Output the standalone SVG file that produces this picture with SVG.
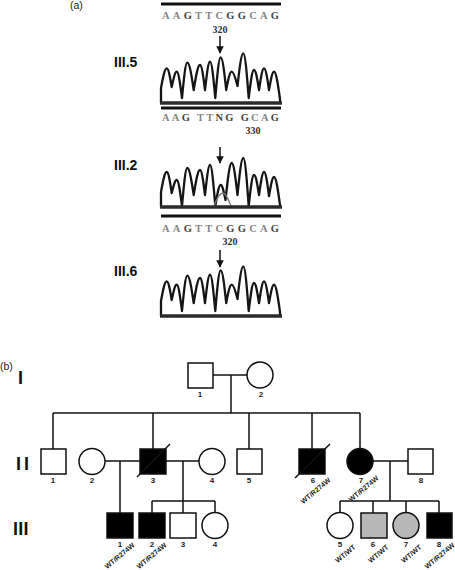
<svg xmlns="http://www.w3.org/2000/svg" xmlns:xlink="http://www.w3.org/1999/xlink" width="455" height="570" viewBox="0 0 455 570">
<style>
.seq{font-family:"Liberation Serif",serif;font-weight:bold;font-size:10.5px;fill:#858585}
.seq .d{fill:#444}
.pos{font-family:"Liberation Serif",serif;font-weight:bold;font-size:10px;fill:#333;text-anchor:middle}
.lab{font-family:"Liberation Sans",Arial,sans-serif;font-weight:bold;font-size:14px;fill:#111}
.cap{font-family:"Liberation Sans",Arial,sans-serif;font-size:10.5px;fill:#222}
.gen{font-family:"Liberation Sans",Arial,sans-serif;font-weight:bold;font-size:18px;fill:#111}
.num{font-family:"Liberation Sans",Arial,sans-serif;font-weight:bold;font-size:8px;fill:#222;text-anchor:middle}
.gt{font-family:"Liberation Sans",Arial,sans-serif;font-weight:bold;font-size:7px;fill:#222;text-anchor:end}
.bar{stroke:#111;stroke-width:2.8}
.trace{fill:none;stroke:#151515;stroke-width:2.3;stroke-linejoin:round}
.trace2{fill:none;stroke:#777;stroke-width:1.3}
.base{stroke:#2a2a2a;stroke-width:3.5}
.arr{stroke:#111;stroke-width:1.5}
.ln{stroke:#111;stroke-width:1.5;fill:none}
.w{fill:#fff;stroke:#111;stroke-width:1.5}
.b{fill:#000;stroke:#111;stroke-width:1.5}
.g{fill:#b8b8b8;stroke:#111;stroke-width:1.5}
</style>
<defs>
<marker id="ah" viewBox="0 0 10 10" refX="9" refY="5" markerWidth="5" markerHeight="5" orient="auto"><path d="M0,0 L10,5 L0,10 z" fill="#111"/></marker>
<g id="chromA">
<path class="trace" d="M161,103 V88 C163,77.2 164.7,68.3 166.7,68.3 C168.5,68.3 170,76.7 171.7,87 C173.5,78.6 175,71.7 176.7,71.7 C178.6,71.7 180.1,83.5 182,98 C183.9,78.6 185.4,62.7 187.3,62.7 C189.5,62.7 191.5,75 193.7,90 C195.9,76.3 197.8,65 200,65 C201.8,65 203.3,76.3 205,90 C206.8,74.4 208.3,61.7 210,61.7 C211.9,61.7 213.4,78 215.3,98 C217.2,75.6 218.8,57.3 220.7,57.3 C222.6,57.3 224.3,72 226.2,90 C228.1,80 229.8,71.7 231.7,71.7 C233.7,71.7 235.5,78.1 237.5,86 C239.5,68 241.3,53.3 243.3,53.3 C245.2,53.3 246.8,73.4 248.7,98 C250.6,82.6 252.1,70 254,70 C255.8,70 257.3,79 259,90 C260.8,78.1 262.3,68.3 264,68.3 C265.8,68.3 267.3,78.1 269,90 C270.8,80 272.3,71.7 274,71.7 C276.1,71.7 277.9,84 280,99 V103"/>
<line class="base" x1="160" y1="103" x2="282" y2="103"/>
</g>
</defs>

<text class="cap" x="70" y="9">(a)</text>

<g id="seq-III5">
<line class="bar" x1="161" y1="4" x2="281" y2="4"/>
<text class="seq" x="162" y="19" textLength="117" lengthAdjust="spacing">AA<tspan class="d">G</tspan>TTC<tspan class="d">GG</tspan>CA<tspan class="d">G</tspan></text>
<text class="pos" x="220" y="33">320</text>
<line class="arr" x1="220" y1="36" x2="220" y2="53" marker-end="url(#ah)"/>
<text class="lab" x="114" y="67">III.5</text>
<use xlink:href="#chromA"/>
</g>

<g id="seq-III2">
<line class="bar" x1="161" y1="108" x2="281" y2="108"/>
<text class="seq" x="162" y="121" textLength="117" lengthAdjust="spacing">AA<tspan class="d">G</tspan> TT<tspan class="d">NG</tspan> <tspan class="d">G</tspan>CA<tspan class="d">G</tspan></text>
<text class="pos" x="253" y="134">330</text>
<line class="arr" x1="220" y1="147" x2="220" y2="163" marker-end="url(#ah)"/>
<text class="lab" x="114" y="170">III.2</text>
<path class="trace" d="M161,207 V192 C163,181 164.7,172 166.7,172 C168.5,172 170,181.5 171.7,193 C173.5,185.9 175,180 176.7,180 C178.6,180 180.1,191.7 182,206 C183.9,185.1 185.4,168 187.3,168 C189.5,168 191.5,180.2 193.7,195 C195.9,181.3 197.8,170 200,170 C201.8,170 203.3,181.3 205,195 C206.8,178.5 208.3,165 210,165 C211.9,165 213.4,183.5 215.3,206 C217.2,194.5 218.8,185 220.7,185 C222.4,185 223.8,191.8 225.5,200 C227.7,179.7 229.5,163 231.7,163 C233.7,163 235.5,177.4 237.5,195 C239.5,174.7 241.3,158 243.3,158 C245.2,158 246.8,179.6 248.7,206 C250.6,188.9 252.1,175 254,175 C255.8,175 257.3,184 259,195 C260.8,182.4 262.3,172 264,172 C265.8,172 267.3,182.8 269,196 C270.8,185.5 272.3,177 274,177 C276.1,177 277.9,189.6 280,205 V207"/>
<path class="trace2" d="M214,206 C217,198 220,193 223,193 C226,193 228,199 231,206"/>
<line class="base" x1="160" y1="207" x2="282" y2="207"/>
</g>

<g id="seq-III6">
<line class="bar" x1="161" y1="216" x2="281" y2="216"/>
<text class="seq" x="162" y="232" textLength="117" lengthAdjust="spacing">AA<tspan class="d">G</tspan>TTC<tspan class="d">GG</tspan>CA<tspan class="d">G</tspan></text>
<text class="pos" x="230" y="245">320</text>
<line class="arr" x1="220" y1="250" x2="220" y2="267" marker-end="url(#ah)"/>
<text class="lab" x="114" y="276">III.6</text>
<use xlink:href="#chromA" transform="translate(0,213)"/>
</g>

<text class="cap" x="0" y="370">(b)</text>
<text class="gen" x="18" y="384">I</text>
<text class="gen" x="16" y="470" letter-spacing="3">II</text>
<text class="gen" x="13" y="535" letter-spacing="0.3">III</text>

<g id="connectors">
<path class="ln" d="M213,375 H247"/>
<path class="ln" d="M231,375 V413"/>
<path class="ln" d="M53,413 H360"/>
<path class="ln" d="M53,413 V449 M153,413 V449 M249,413 V449 M312,413 V449 M360,413 V448"/>
<path class="ln" d="M105,461 H140 M120,461 V513"/>
<path class="ln" d="M166,461 H199 M183,461 V501"/>
<path class="ln" d="M152,501 H215 M152,501 V513 M183,501 V513 M215,501 V512"/>
<path class="ln" d="M373,461 H408 M390,461 V501"/>
<path class="ln" d="M340,501 H439 M340,501 V512 M373,501 V513 M406,501 V512 M439,501 V513"/>
</g>

<g id="I-1"><rect class="w" x="188" y="363" width="25" height="25"/><text class="num" x="200" y="397">1</text></g>
<g id="I-2"><circle class="w" cx="260" cy="375" r="13"/><text class="num" x="261" y="397">2</text></g>

<g id="II-1"><rect class="w" x="41" y="449" width="25" height="25"/><text class="num" x="53" y="483">1</text></g>
<g id="II-2"><circle class="w" cx="92" cy="461.5" r="13"/><text class="num" x="92" y="483">2</text></g>
<g id="II-3"><rect class="b" x="140" y="449" width="26" height="25"/><path class="ln" d="M137,477 L170,444"/><text class="num" x="153" y="483">3</text></g>
<g id="II-4"><circle class="w" cx="212" cy="461.5" r="13"/><text class="num" x="212" y="483">4</text></g>
<g id="II-5"><rect class="w" x="237" y="449" width="25" height="25"/><text class="num" x="249" y="483">5</text></g>
<g id="II-6"><rect class="b" x="299" y="449" width="26" height="25"/><path class="ln" d="M295,478 L330,444"/><text class="num" x="313" y="483">6</text><text class="gt" transform="translate(331,481) rotate(-40)">WT/R274W</text></g>
<g id="II-7"><circle class="b" cx="360" cy="461.5" r="13"/><text class="num" x="361" y="483">7</text><text class="gt" transform="translate(379,479) rotate(-40)">WT/R274W</text></g>
<g id="II-8"><rect class="w" x="408" y="449" width="25" height="25"/><text class="num" x="421" y="483">8</text></g>

<g id="III-1"><rect class="b" x="107" y="513" width="26" height="25"/><text class="num" x="120" y="547">1</text><text class="gt" transform="translate(135,546) rotate(-40)">WT/R274W</text></g>
<g id="III-2"><rect class="b" x="139" y="513" width="26" height="25"/><text class="num" x="152" y="547">2</text><text class="gt" transform="translate(167,546) rotate(-40)">WT/R274W</text></g>
<g id="III-3"><rect class="w" x="170" y="513" width="26" height="25"/><text class="num" x="183" y="547">3</text></g>
<g id="III-4"><circle class="w" cx="215" cy="525.5" r="13"/><text class="num" x="215" y="547">4</text></g>
<g id="III-5"><circle class="w" cx="340" cy="525.5" r="13"/><text class="num" x="340" y="547">5</text><text class="gt" transform="translate(356,548) rotate(-40)">WT/WT</text></g>
<g id="III-6"><rect class="g" x="361" y="513" width="26" height="25"/><text class="num" x="373" y="547">6</text><text class="gt" transform="translate(389,548) rotate(-40)">WT/WT</text></g>
<g id="III-7"><circle class="g" cx="406" cy="525.5" r="13"/><text class="num" x="406" y="547">7</text><text class="gt" transform="translate(422,548) rotate(-40)">WT/WT</text></g>
<g id="III-8"><rect class="b" x="427" y="513" width="25" height="25"/><text class="num" x="439" y="547">8</text><text class="gt" transform="translate(455,546) rotate(-40)">WT/R274W</text></g>
</svg>
